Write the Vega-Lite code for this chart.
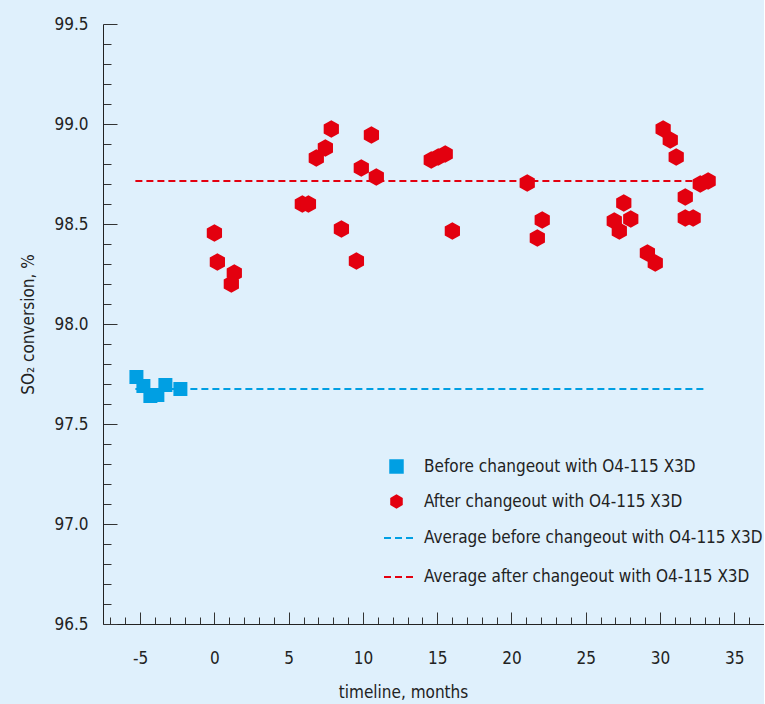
{
  "$schema": "https://vega.github.io/schema/vega-lite/v6.json",
  "width": 661,
  "height": 600,
  "autosize": {"type": "none"},
  "padding": {"left": 103, "top": 24, "right": 0, "bottom": 80},
  "background": "#dff0fc",
  "config": {
    "view": {"stroke": null},
    "font": "DejaVu Sans Condensed, DejaVu Sans, sans-serif",
    "axis": {"grid": false, "domainColor": "#222222", "tickColor": "#333333", "labelColor": "#222222", "titleColor": "#222222", "labelFont": "DejaVu Sans Condensed, DejaVu Sans, sans-serif", "titleFont": "DejaVu Sans Condensed, DejaVu Sans, sans-serif", "labelFontSize": 17, "titleFontSize": 17, "titleFontWeight": "normal"},
    "legend": {"labelFont": "DejaVu Sans Condensed, DejaVu Sans, sans-serif", "labelFontSize": 17, "labelColor": "#222222", "padding": 0, "labelLimit": 500}
  },
  "datasets": {
    "points": [
      {"month": -5.25, "conversion": 97.735, "series": "Before changeout with O4-115 X3D"},
      {"month": -4.78, "conversion": 97.69, "series": "Before changeout with O4-115 X3D"},
      {"month": -4.31, "conversion": 97.64, "series": "Before changeout with O4-115 X3D"},
      {"month": -3.84, "conversion": 97.645, "series": "Before changeout with O4-115 X3D"},
      {"month": -3.3, "conversion": 97.695, "series": "Before changeout with O4-115 X3D"},
      {"month": -2.29, "conversion": 97.675, "series": "Before changeout with O4-115 X3D"},
      {"month": 0.0, "conversion": 98.455, "series": "After changeout with O4-115 X3D"},
      {"month": 0.2, "conversion": 98.31, "series": "After changeout with O4-115 X3D"},
      {"month": 1.34, "conversion": 98.255, "series": "After changeout with O4-115 X3D"},
      {"month": 1.14, "conversion": 98.2, "series": "After changeout with O4-115 X3D"},
      {"month": 5.92, "conversion": 98.6, "series": "After changeout with O4-115 X3D"},
      {"month": 6.33, "conversion": 98.6, "series": "After changeout with O4-115 X3D"},
      {"month": 6.86, "conversion": 98.83, "series": "After changeout with O4-115 X3D"},
      {"month": 7.47, "conversion": 98.88, "series": "After changeout with O4-115 X3D"},
      {"month": 7.87, "conversion": 98.975, "series": "After changeout with O4-115 X3D"},
      {"month": 8.55, "conversion": 98.475, "series": "After changeout with O4-115 X3D"},
      {"month": 9.56, "conversion": 98.315, "series": "After changeout with O4-115 X3D"},
      {"month": 9.89, "conversion": 98.78, "series": "After changeout with O4-115 X3D"},
      {"month": 10.57, "conversion": 98.945, "series": "After changeout with O4-115 X3D"},
      {"month": 10.9, "conversion": 98.735, "series": "After changeout with O4-115 X3D"},
      {"month": 14.6, "conversion": 98.82, "series": "After changeout with O4-115 X3D"},
      {"month": 15.07, "conversion": 98.835, "series": "After changeout with O4-115 X3D"},
      {"month": 15.54, "conversion": 98.85, "series": "After changeout with O4-115 X3D"},
      {"month": 16.02, "conversion": 98.465, "series": "After changeout with O4-115 X3D"},
      {"month": 21.06, "conversion": 98.705, "series": "After changeout with O4-115 X3D"},
      {"month": 21.74, "conversion": 98.43, "series": "After changeout with O4-115 X3D"},
      {"month": 22.07, "conversion": 98.52, "series": "After changeout with O4-115 X3D"},
      {"month": 26.92, "conversion": 98.515, "series": "After changeout with O4-115 X3D"},
      {"month": 27.26, "conversion": 98.465, "series": "After changeout with O4-115 X3D"},
      {"month": 27.56, "conversion": 98.605, "series": "After changeout with O4-115 X3D"},
      {"month": 28.03, "conversion": 98.525, "series": "After changeout with O4-115 X3D"},
      {"month": 29.15, "conversion": 98.355, "series": "After changeout with O4-115 X3D"},
      {"month": 29.68, "conversion": 98.305, "series": "After changeout with O4-115 X3D"},
      {"month": 30.21, "conversion": 98.975, "series": "After changeout with O4-115 X3D"},
      {"month": 30.69, "conversion": 98.92, "series": "After changeout with O4-115 X3D"},
      {"month": 31.09, "conversion": 98.835, "series": "After changeout with O4-115 X3D"},
      {"month": 31.7, "conversion": 98.635, "series": "After changeout with O4-115 X3D"},
      {"month": 31.7, "conversion": 98.53, "series": "After changeout with O4-115 X3D"},
      {"month": 32.23, "conversion": 98.53, "series": "After changeout with O4-115 X3D"},
      {"month": 32.71, "conversion": 98.7, "series": "After changeout with O4-115 X3D"},
      {"month": 33.24, "conversion": 98.715, "series": "After changeout with O4-115 X3D"}
    ],
    "averages": [
      {"start": -5.32, "end": 32.97, "conversion": 97.675, "line": "Average before changeout with O4-115 X3D"},
      {"start": -5.32, "end": 32.97, "conversion": 98.715, "line": "Average after changeout with O4-115 X3D"}
    ]
  },
  "resolve": {"legend": {"stroke": "independent", "fill": "independent", "shape": "independent"}},
  "layer": [
    {
      "data": {"name": "averages"},
      "mark": {"type": "rule", "strokeWidth": 2, "strokeDash": [7, 4]},
      "encoding": {
        "x": {"field": "start", "type": "quantitative", "scale": {"domain": [-7.5, 37], "nice": false, "zero": false},
          "axis": {"values": [-7,-6,-5,-4,-3,-2,-1,0,1,2,3,4,5,6,7,8,9,10,11,12,13,14,15,16,17,18,19,20,21,22,23,24,25,26,27,28,29,30,31,32,33,34,35,36,37],
            "tickCount": 200,
            "labelExpr": "datum.value % 5 === 0 ? '' + datum.value : ''",
            "tickSize": {"condition": {"test": "datum.value % 5 === 0", "value": -12}, "value": -7},
            "labelPadding": 38, "title": "timeline, months", "titlePadding": 13, "titleX": 300, "titleAnchor": "middle", "labelFlush": false, "labelOverlap": false}},
        "x2": {"field": "end"},
        "y": {"field": "conversion", "type": "quantitative", "scale": {"domain": [96.5, 99.5], "nice": false, "zero": false},
          "axis": {"values": [96.5,96.6,96.7,96.8,96.9,97.0,97.1,97.2,97.3,97.4,97.5,97.6,97.7,97.8,97.9,98.0,98.1,98.2,98.3,98.4,98.5,98.6,98.7,98.8,98.9,99.0,99.1,99.2,99.3,99.4,99.5],
            "tickCount": 200,
            "format": ".1f",
            "labelExpr": "abs(round(datum.value * 2) - datum.value * 2) < 0.001 ? datum.label : ''",
            "tickSize": {"condition": {"test": "abs(round(datum.value * 2) - datum.value * 2) < 0.001", "value": -14}, "value": -8},
            "labelPadding": 29, "title": "SO₂ conversion, %", "titlePadding": 16, "labelFlush": false, "labelOverlap": false}},
        "stroke": {"field": "line", "type": "nominal", "sort": "descending",
          "scale": {"range": ["#009fe3", "#e3000f"]},
          "legend": {"title": null, "orient": "none", "legendX": 280, "legendY": 498, "symbolType": "stroke", "symbolSize": 900, "symbolStrokeWidth": 2, "symbolDash": [7, 4], "labelOffset": 9, "rowPadding": 15}}
      }
    },
    {
      "data": {"name": "points"},
      "mark": {"type": "point", "filled": true, "opacity": 1},
      "encoding": {
        "x": {"field": "month", "type": "quantitative"},
        "y": {"field": "conversion", "type": "quantitative"},
        "fill": {"field": "series", "type": "nominal", "sort": "descending",
          "scale": {"range": ["#009fe3", "#e3000f"]},
          "legend": {"title": null, "orient": "none", "legendX": 285, "legendY": 434, "symbolSize": 210, "labelOffset": 19, "rowPadding": 14, "symbolOpacity": 1}},
        "shape": {"field": "series", "type": "nominal", "sort": "descending",
          "scale": {"range": ["square", "M0,-1L0.866,-0.5L0.866,0.5L0,1L-0.866,0.5L-0.866,-0.5Z"]},
          "legend": {"title": null, "orient": "none", "legendX": 285, "legendY": 434, "symbolSize": 210, "labelOffset": 19, "rowPadding": 14, "symbolOpacity": 1}},
        "size": {"field": "series", "type": "nominal", "sort": "descending",
          "scale": {"range": [196, 310]},
          "legend": null}
      }
    }
  ]
}
